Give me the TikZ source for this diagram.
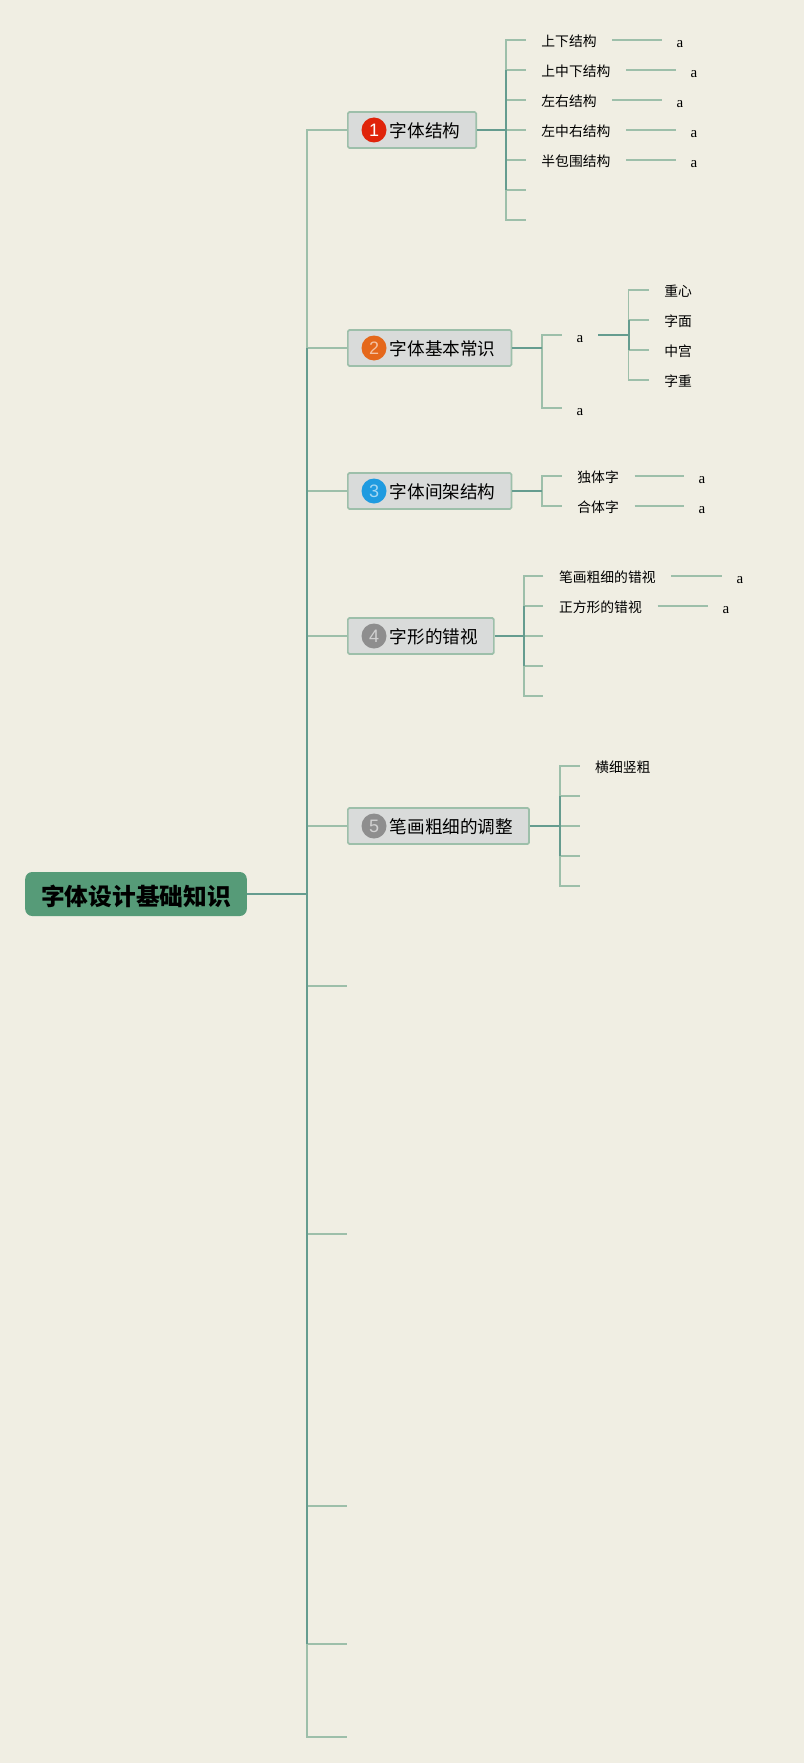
\documentclass[tikz,border=0pt]{standalone}
\usepackage{fontspec}
\setmainfont{Noto Sans CJK SC}
\newfontfamily\serifa{Liberation Serif}
\newfontfamily\chiffre{Liberation Sans}
\definecolor{fond}{HTML}{F0EEE3}
\definecolor{clair}{HTML}{9DBFAA}
\definecolor{fonce}{HTML}{659C8F}
\definecolor{vert}{HTML}{569B78}
\definecolor{gris}{HTML}{D9DBDA}
\tikzset{
	racine/.style={fill=vert, rounded corners=7pt, anchor=west, inner xsep=16pt, inner ysep=0pt, minimum height=44pt, text height=22pt, text depth=0pt, font=\fontsize{23.7}{26}\selectfont\bfseries},
	boite/.style={draw=clair, fill=gris, line width=1.7pt, rounded corners=1.5pt, anchor=west, inner xsep=16pt, inner ysep=0pt, minimum height=36pt, text height=15.8pt, text depth=0pt, font=\fontsize{17.6}{20}\selectfont},
	pastille/.style={circle, inner sep=0pt, minimum size=25pt, text=white, text opacity=.6, font=\chiffre\fontsize{18}{20}\selectfont},
	feuille/.style={anchor=west, inner xsep=15.5pt, inner ysep=0pt, text height=13pt, text depth=0pt, font=\fontsize{13.8}{16}\selectfont},
	lettre/.style={inner xsep=14.5pt, inner ysep=0pt, text height=14.6pt, text depth=0pt, font=\serifa\fontsize{15}{16}\selectfont},
	clairtrait/.style={draw=clair, line width=1.9pt},
	foncetrait/.style={draw=fonce, line width=2pt},
}
\begin{document}
\begin{tikzpicture}[x=1pt,y=-1pt]
	\useasboundingbox[fill=fond] (0,0) rectangle (804,1763);
	% racine et tronc
	\node[racine] (R) at (25,894) {字体设计基础知识};
	\coordinate (S1) at (307,130);
	\coordinate (S2) at (307,348);
	\coordinate (S3) at (307,491);
	\coordinate (S4) at (307,636);
	\coordinate (S5) at (307,826);
	\coordinate (S0) at (307,894);
	\coordinate (S6) at (307,986);
	\coordinate (S7) at (307,1234);
	\coordinate (S8) at (307,1506);
	\coordinate (S9) at (307,1644);
	\coordinate (S10) at (307,1737);
	\coordinate (E6) at (347,986);
	\coordinate (E7) at (347,1234);
	\coordinate (E8) at (347,1506);
	\coordinate (E9) at (347,1644);
	\coordinate (E10) at (347,1737);
	% branche 1
	\node[boite] (B1) at (347,130) {\hspace*{26pt}字体结构};
	\node[pastille, fill={rgb,255:red,224;green,36;blue,11}, text opacity=1] (N1) at (374,130) {1};
	\coordinate (J11) at (505.7,40);
	\coordinate (J12) at (505.7,70);
	\coordinate (J13) at (505.7,100);
	\coordinate (J14) at (505.7,130);
	\coordinate (J15) at (505.7,160);
	\coordinate (J16) at (505.7,190);
	\coordinate (J17) at (505.7,220);
	\coordinate (E16) at (525.7,190);
	\coordinate (E17) at (525.7,220);
	\node[feuille] (L11) at (525.7,40) {上下结构};
	\node[feuille] (L12) at (525.7,70) {上中下结构};
	\node[feuille] (L13) at (525.7,100) {左右结构};
	\node[feuille] (L14) at (525.7,130) {左中右结构};
	\node[feuille] (L15) at (525.7,160) {半包围结构};
	\node[lettre] (A11) at (680,40) {a};
	\node[lettre] (A12) at (694,70) {a};
	\node[lettre] (A13) at (680,100) {a};
	\node[lettre] (A14) at (694,130) {a};
	\node[lettre] (A15) at (694,160) {a};
	% branche 2
	\node[boite] (B2) at (347,348) {\hspace*{26pt}字体基本常识};
	\node[pastille, fill={rgb,255:red,229;green,104;blue,27}] (N2) at (374,348) {2};
	\coordinate (J2) at (541.7,348);
	\coordinate (J21) at (541.7,335);
	\coordinate (J22) at (541.7,408);
	\node[lettre] (A21) at (580,335) {a};
	\node[lettre] (A22) at (580,408) {a};
	\coordinate (K0) at (628.5,335);
	\coordinate (K1) at (628.5,290);
	\coordinate (K2) at (628.5,320);
	\coordinate (K3) at (628.5,350);
	\coordinate (K4) at (628.5,380);
	\node[feuille] (L21) at (648.7,290) {重心};
	\node[feuille] (L22) at (648.7,320) {字面};
	\node[feuille] (L23) at (648.7,350) {中宫};
	\node[feuille] (L24) at (648.7,380) {字重};
	% branche 3
	\node[boite] (B3) at (347,491) {\hspace*{26pt}字体间架结构};
	\node[pastille, fill={rgb,255:red,31;green,155;blue,224}] (N3) at (374,491) {3};
	\coordinate (J3) at (541.7,491);
	\coordinate (J31) at (541.7,476);
	\coordinate (J32) at (541.7,506);
	\node[feuille] (L31) at (561.7,476) {独体字};
	\node[feuille] (L32) at (561.7,506) {合体字};
	\node[lettre] (A31) at (702,476) {a};
	\node[lettre] (A32) at (702,506) {a};
	% branche 4
	\node[boite] (B4) at (347,636) {\hspace*{26pt}字形的错视};
	\node[pastille, fill={rgb,255:red,142;green,142;blue,142}] (N4) at (374,636) {4};
	\coordinate (J41) at (523.7,576);
	\coordinate (J42) at (523.7,606);
	\coordinate (J43) at (523.7,636);
	\coordinate (J44) at (523.7,666);
	\coordinate (J45) at (523.7,696);
	\coordinate (E43) at (543.3,636);
	\coordinate (E44) at (543.3,666);
	\coordinate (E45) at (543.3,696);
	\node[feuille] (L41) at (543.3,576) {笔画粗细的错视};
	\node[feuille] (L42) at (543.3,606) {正方形的错视};
	\node[lettre] (A41) at (740,576) {a};
	\node[lettre] (A42) at (726,606) {a};
	% branche 5
	\node[boite] (B5) at (347,826) {\hspace*{26pt}笔画粗细的调整};
	\node[pastille, fill={rgb,255:red,142;green,142;blue,142}] (N5) at (374,826) {5};
	\coordinate (J51) at (560,766);
	\coordinate (J52) at (560,796);
	\coordinate (J53) at (560,826);
	\coordinate (J54) at (560,856);
	\coordinate (J55) at (560,886);
	\coordinate (E52) at (580,796);
	\coordinate (E53) at (580,826);
	\coordinate (E54) at (580,856);
	\coordinate (E55) at (580,886);
	\node[feuille] (L51) at (579.5,766) {横细竖粗};
	% traits
	\draw[clairtrait] (B1.west)--(S1)--(S2) (S2)--(B2.west) (S3)--(B3.west) (S4)--(B4.west) (S5)--(B5.west) (S6)--(E6) (S7)--(E7) (S8)--(E8) (S9)--(S10)--(E10) (S9)--(E9);
	\draw[clairtrait] (L11.west)--(J11)--(J12) (J12)--(L12.west) (J13)--(L13.west) (J14)--(L14.west) (J15)--(L15.west) (J16)--(E16) (J16)--(J17)--(E17);
	\draw[clairtrait] (L11.east)--(A11.west) (L12.east)--(A12.west) (L13.east)--(A13.west) (L14.east)--(A14.west) (L15.east)--(A15.west);
	\draw[clairtrait] (A21.west)--(J21)--(J22)--(A22.west);
	\draw[clairtrait] (L21.west)--(K1)--(K2)--(L22.west) (L24.west)--(K4)--(K3)--(L23.west);
	\draw[clairtrait] (L31.west)--(J31)--(J32)--(L32.west) (L31.east)--(A31.west) (L32.east)--(A32.west);
	\draw[clairtrait] (L41.west)--(J41)--(J42)--(L42.west) (J43)--(E43) (J44)--(E44) (J44)--(J45)--(E45) (L41.east)--(A41.west) (L42.east)--(A42.west);
	\draw[clairtrait] (L51.west)--(J51)--(J52)--(E52) (J53)--(E53) (J54)--(E54) (J54)--(J55)--(E55);
	\draw[foncetrait] (R.east)--(S0) (S2)--(S9);
	\draw[foncetrait] (B1.east)--(J14) (J12)--(J16) (B2.east)--(J2) (A21.east)--(K0) (K2)--(K3) (B3.east)--(J3) (B4.east)--(J43) (J42)--(J44) (B5.east)--(J53) (J52)--(J54);
\end{tikzpicture}
\end{document}
